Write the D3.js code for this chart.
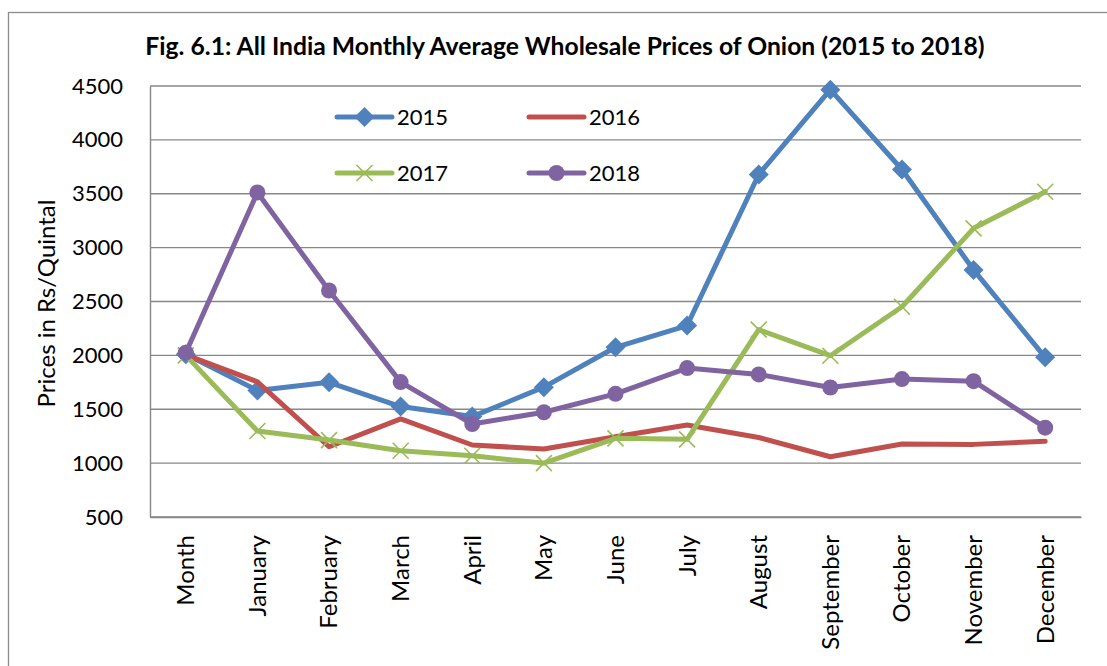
<!DOCTYPE html>
<html>
<head>
<meta charset="utf-8">
<script src="https://cdn.jsdelivr.net/npm/d3@7"></script>
<style>
  html, body { margin: 0; padding: 0; background: #fff; }
  svg { display: block; }
  text { font-family: Lato, "Open Sans", sans-serif; fill: #000; }
</style>
</head>
<body>
<svg id="chart" width="1107" height="666"></svg>
<script>
const categories = ["Month", "January", "February", "March", "April", "May", "June",
  "July", "August", "September", "October", "November", "December"];
const s2015 = [2010, 1675, 1750, 1525, 1432, 1705, 2075, 2277, 3679, 4466, 3725, 2793, 1982];
const s2016 = [2005, 1755, 1152, 1410, 1168, 1131, 1245, 1354, 1238, 1059, 1177, 1174, 1202];
const s2017 = [2000, 1298, 1214, 1115, 1068, 1000, 1230, 1221, 2239, 1997, 2451, 3179, 3519];
const s2018 = [2025, 3512, 2602, 1752, 1363, 1472, 1643, 1882, 1823, 1702, 1780, 1761, 1329];
const seriesNames = ["2015", "2016", "2017", "2018"];
const seriesColors = ["#4F81BD", "#C0504D", "#9BBB59", "#8064A2"];
const seriesMarkers = ["diamond", "none", "cross", "circle"];
const yTicks = [500, 1000, 1500, 2000, 2500, 3000, 3500, 4000, 4500];
const titleText = "Fig. 6.1: All India Monthly Average Wholesale Prices of Onion (2015 to 2018)";
const yAxisTitle = "Prices in Rs/Quintal";

const seriesData = [s2015, s2016, s2017, s2018];

const svg = d3.select("#chart");
const plot = { left: 150, right: 1081, top: 86, bottom: 517 };
const gridColor = "#878787";

// outer chart border
svg.append("rect")
  .attr("x", 8.5).attr("y", 12.5)
  .attr("width", 1300).attr("height", 900)
  .attr("fill", "none").attr("stroke", "#8c8c8c").attr("stroke-width", 1.3);

const x = d3.scaleBand().domain(categories).range([plot.left, plot.right]).padding(0);
const y = d3.scaleLinear().domain([500, 4500]).range([plot.bottom, plot.top]);
const cx = d => x(d) + x.bandwidth() / 2;

// gridlines
svg.append("g").selectAll("line").data(yTicks).join("line")
  .attr("x1", plot.left).attr("x2", plot.right)
  .attr("y1", d => y(d)).attr("y2", d => y(d))
  .attr("stroke", gridColor).attr("stroke-width", 1.4);

// y axis
const yAxis = svg.append("g")
  .attr("transform", `translate(${plot.left},0)`)
  .call(d3.axisLeft(y).tickValues(yTicks).tickSize(0).tickPadding(27).tickFormat(d3.format("d")));
yAxis.select(".domain").attr("stroke", gridColor).attr("stroke-width", 1.4);
yAxis.selectAll("text").attr("font-size", 22).attr("font-family", "Lato, sans-serif").attr("fill", "#000");

// x axis
const xAxis = svg.append("g")
  .attr("transform", `translate(0,${plot.bottom})`)
  .call(d3.axisBottom(x).tickSize(0).tickSizeOuter(0));
xAxis.select(".domain").attr("stroke", gridColor).attr("stroke-width", 1.4);
xAxis.selectAll("text")
  .attr("font-size", 24).attr("font-family", "Lato, sans-serif").attr("fill", "#000")
  .attr("text-anchor", "end")
  .attr("transform", "translate(0,18) rotate(-90)")
  .attr("x", 0).attr("y", 0).attr("dy", "0.35em");

// y axis title
svg.append("text")
  .attr("transform", `translate(47,${(plot.top + plot.bottom) / 2 + 2}) rotate(-90)`)
  .attr("text-anchor", "middle").attr("dy", "0.35em")
  .attr("font-size", 24)
  .text(yAxisTitle);

// title
const title = svg.append("text")
  .attr("x", 565).attr("y", 55)
  .attr("text-anchor", "middle")
  .attr("font-weight", "bold")
  .attr("font-size", 21)
  .text(titleText);
const tw = title.node().getComputedTextLength();
title.attr("font-size", 21 * 840 / tw);

function drawMarker(g, type, color, px, py) {
  if (type === "diamond") {
    const r = 10;
    g.append("path")
      .attr("d", `M${px},${py - r}L${px + r},${py}L${px},${py + r}L${px - r},${py}Z`)
      .attr("fill", color);
  } else if (type === "circle") {
    g.append("circle").attr("cx", px).attr("cy", py).attr("r", 8).attr("fill", color);
  } else if (type === "cross") {
    const r = 8;
    g.append("path")
      .attr("d", `M${px - r},${py - r}L${px + r},${py + r}M${px - r},${py + r}L${px + r},${py - r}`)
      .attr("stroke", color).attr("stroke-width", 1.6).attr("fill", "none");
  }
}

// series
const line = d3.line().x((d, i) => cx(categories[i])).y(d => y(d));
seriesData.forEach((vals, si) => {
  const g = svg.append("g");
  g.append("path")
    .attr("d", line(vals))
    .attr("fill", "none")
    .attr("stroke", seriesColors[si])
    .attr("stroke-width", 5)
    .attr("stroke-linejoin", "round")
    .attr("stroke-linecap", "round");
  vals.forEach((v, i) => drawMarker(g, seriesMarkers[si], seriesColors[si], cx(categories[i]), y(v)));
});

// legend
const legendPos = [[337, 117], [529, 117], [337, 173], [529, 173]];
seriesNames.forEach((name, si) => {
  const [lx, ly] = legendPos[si];
  const g = svg.append("g");
  g.append("line")
    .attr("x1", lx).attr("x2", lx + 55).attr("y1", ly).attr("y2", ly)
    .attr("stroke", seriesColors[si]).attr("stroke-width", 5).attr("stroke-linecap", "round");
  drawMarker(g, seriesMarkers[si], seriesColors[si], lx + 27.5, ly);
  g.append("text")
    .attr("x", lx + 60).attr("y", ly).attr("dy", "0.36em")
    .attr("font-size", 22)
    .text(name);
});
</script>
</body>
</html>
